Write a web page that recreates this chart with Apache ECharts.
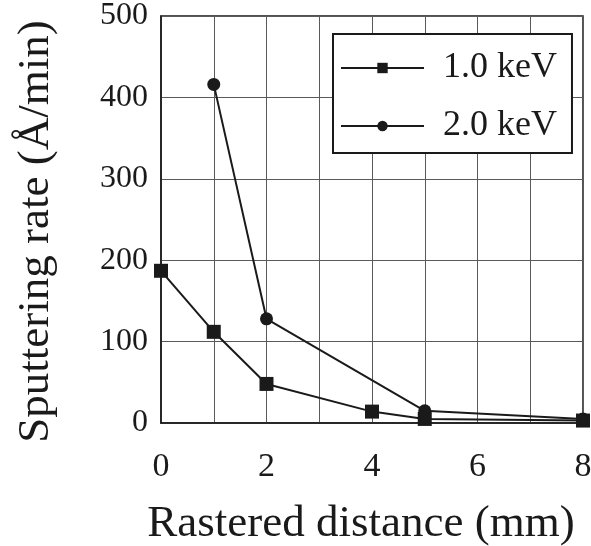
<!DOCTYPE html>
<html><head><meta charset="utf-8">
<script src="https://cdn.jsdelivr.net/npm/echarts@6/dist/echarts.min.js"></script>
<style>html,body{margin:0;padding:0;background:#fff}#c{width:591px;height:546px}</style>
</head><body><div id="c"></div>
<script>
const xTicks = [0, 2, 4, 6, 8];
const yTicks = [0, 100, 200, 300, 400, 500];
const seriesNames = ['1.0 keV', '2.0 keV'];
const x1 = [0, 1, 2, 4, 5, 8];
const y1 = [187, 112, 48, 14, 5, 3];
const x2 = [1, 2, 5, 8];
const y2 = [416, 128, 15, 5];

const font = 'Liberation Serif, Times New Roman, serif';
const ink = '#1a1a1a';
const chart = echarts.init(document.getElementById('c'));
chart.setOption({
  animation: false,
  backgroundColor: '#fff',
  textStyle: { fontFamily: font, color: ink },
  grid: { left: 161, right: 8, top: 16, bottom: 123, show: true, borderColor: ink, borderWidth: 1.5,
    outerBoundsMode: 'none', containLabel: false },
  legend: {
    orient: 'vertical', left: 333, top: 34,
    padding: [16, 15, 9, 7],
    itemWidth: 83, itemHeight: 13, itemGap: 22,
    borderColor: ink, borderWidth: 2, backgroundColor: '#fff',
    textStyle: { fontFamily: font, fontSize: 36, color: ink, padding: [0, 0, 0, 14] },
    data: seriesNames
  },
  xAxis: {
    type: 'value', min: 0, max: 8, interval: 1,
    name: 'Rastered distance (mm)', nameLocation: 'middle', nameGap: 79,
    nameTextStyle: { fontFamily: font, fontSize: 45, color: ink, padding: [0, 22, 0, 0] },
    axisLine: { show: true, lineStyle: { color: ink, width: 1.5 } },
    axisTick: { show: false },
    axisLabel: { fontFamily: font, fontSize: 34, color: ink, margin: 27,
      formatter: v => xTicks.indexOf(v) >= 0 ? String(v) : '' },
    splitLine: { show: true, lineStyle: { color: '#5a5a5a', width: 1 } }
  },
  yAxis: {
    type: 'value', min: 0, max: 500, interval: 100,
    name: 'Sputtering rate (Å/min)', nameLocation: 'middle', nameGap: 102,
    nameTextStyle: { fontFamily: font, fontSize: 45, color: ink, padding: [0, 24, 0, 0] },
    axisLine: { show: true, lineStyle: { color: ink, width: 1.5 } },
    axisTick: { show: false },
    axisLabel: { fontFamily: font, fontSize: 32, color: ink, margin: 13,
      formatter: v => yTicks.indexOf(v) >= 0 ? String(v) : '' },
    splitLine: { show: true, lineStyle: { color: '#5a5a5a', width: 1 } }
  },
  series: [
    { name: seriesNames[0], type: 'line', data: x1.map((x, i) => [x, y1[i]]),
      symbol: 'rect', symbolSize: 14, lineStyle: { color: ink, width: 2 },
      itemStyle: { color: ink }, z: 3 },
    { name: seriesNames[1], type: 'line', data: x2.map((x, i) => [x, y2[i]]),
      symbol: 'circle', symbolSize: 13, lineStyle: { color: ink, width: 2 },
      itemStyle: { color: ink }, z: 4 }
  ]
});
</script></body></html>
